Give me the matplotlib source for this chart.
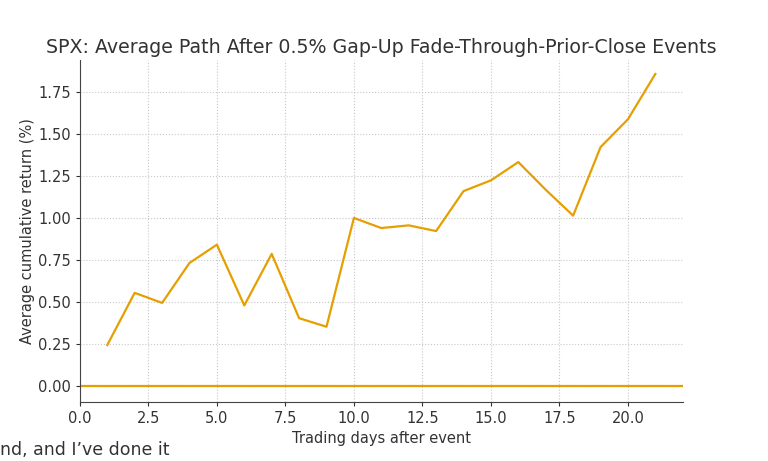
import matplotlib
matplotlib.use("Agg")
import matplotlib.pyplot as plt

# Average cumulative return path
days = [1, 2, 3, 4, 5, 6, 7, 8, 9, 10, 11, 12, 13, 14, 15, 16, 17, 18, 19, 20, 21]
avg_return = [0.244, 0.555, 0.495, 0.733, 0.842, 0.480, 0.787, 0.404, 0.353, 1.001,
              0.941, 0.957, 0.923, 1.161, 1.225, 1.334, 1.169, 1.015, 1.423, 1.589, 1.859]

title = "SPX: Average Path After 0.5% Gap-Up Fade-Through-Prior-Close Events"
orange = "#E69F00"

fig = plt.figure(figsize=(7.68, 4.61), dpi=100)
ax = fig.add_axes([0.104, 0.129, 0.785, 0.741])

ax.plot(days, avg_return, color=orange, linewidth=1.6)
ax.axhline(0, color=orange, linewidth=1.6)

ax.set_xlim(0, 22)
ax.set_ylim(-0.0925, 1.9425)
ax.set_xticks([0, 2.5, 5, 7.5, 10, 12.5, 15, 17.5, 20])
ax.set_yticks([0, 0.25, 0.5, 0.75, 1.0, 1.25, 1.5, 1.75])
ax.xaxis.set_major_formatter(matplotlib.ticker.FormatStrFormatter("%.1f"))
ax.yaxis.set_major_formatter(matplotlib.ticker.FormatStrFormatter("%.2f"))

ax.grid(True, linestyle=":", color="#c8c8c8", linewidth=0.8)
for s in ["top", "right"]:
    ax.spines[s].set_visible(False)
for s in ["left", "bottom"]:
    ax.spines[s].set_color("#444444")
ax.tick_params(colors="#333333", labelsize=10.5, length=3)

ax.set_title(title, fontsize=13.7, color="#333333", pad=5)
ax.set_xlabel("Trading days after event", fontsize=10.5, color="#333333")
ax.set_ylabel("Average cumulative return (%)", fontsize=10.5, color="#333333", labelpad=2)

# caption fragment from the screenshot, bottom-left
fig.text(0.0, 0.004, "nd, and I\u2019ve done it", fontsize=12.5, color="#333333", va="bottom")

fig.savefig("out.png", dpi=100)
